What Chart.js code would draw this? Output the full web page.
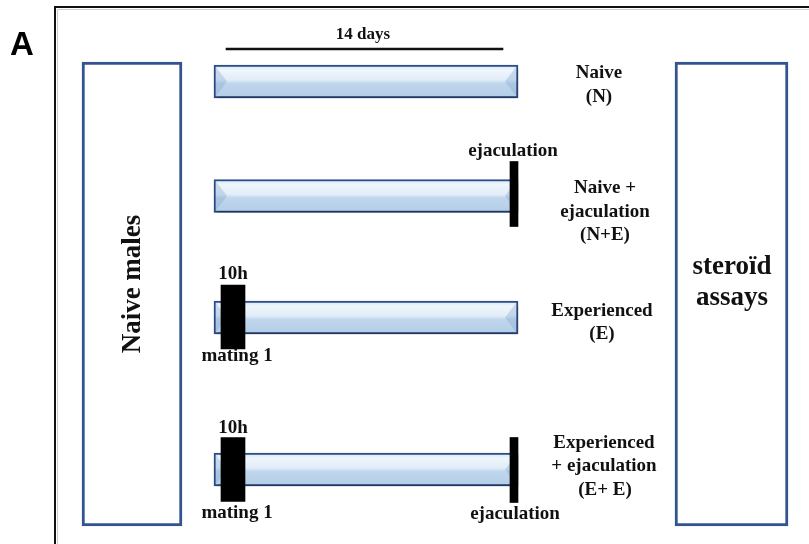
<!DOCTYPE html>
<html>
<head>
<meta charset="utf-8">
<script src="https://cdn.jsdelivr.net/npm/chart.js@4/dist/chart.umd.min.js"></script>
<style>
  html, body { margin: 0; padding: 0; background: #ffffff; }
  #wrap { width: 809px; height: 544px; }
</style>
</head>
<body>
<div id="wrap"><canvas id="c" width="809" height="544"></canvas></div>
<script>
// ---- Data (diagram coordinates in abstract units on a 809 x 544 grid) ----
const groupNames   = ['Naive (N)', 'Naive + ejaculation (N+E)', 'Experienced (E)', 'Experienced + ejaculation (E+ E)'];
const rowCenters   = [81.5, 196, 317.5, 469.5];
const periodStart  = [214, 214, 214, 214];
const periodEnd    = [518, 518, 518, 518];
const matingRows   = [317, 469.5];
const matingRange  = [221, 245];
const ejacRows     = [194, 470];
const ejacRange    = [510, 518];
const sideBoxes    = [[82, 182], [675, 788]];
const sideBoxMid   = 294;
const spanRange    = [226, 503];
const spanY        = 49;

// label lines: [text, x center, baseline, size]
const groupLabels = [
  ['Naive', 599, 78], ['(N)', 599, 102],
  ['Naive +', 605, 193], ['ejaculation', 605, 217], ['(N+E)', 605, 240],
  ['Experienced', 602, 316], ['(E)', 602, 339],
  ['Experienced', 604, 448], ['+ ejaculation', 604, 471], ['(E+ E)', 605, 495]
];
const eventLabels = [
  ['14 days', 363, 39, 17],
  ['ejaculation', 513, 156, 19],
  ['10h', 233, 279, 19],
  ['mating 1', 237, 361, 19],
  ['10h', 233, 433, 19],
  ['mating 1', 237, 518, 19],
  ['ejaculation', 515, 519, 19]
];
const boxTexts = [
  ['steroïd', 732, 274], ['assays', 732, 305]
];
const rotatedText = ['Naive males', 133, 284];
const panelLetter = ['A', 22, 55];

const SERIF = '"Liberation Serif", "Times New Roman", serif';

function barGradient(c) {
  const ch = c.chart;
  if (!ch || !ch.scales || !ch.scales.y || !c.raw || !ch.ctx) return '#c6daee';
  const yc = ch.scales.y.getPixelForValue(c.raw.y);
  if (!isFinite(yc)) return '#c6daee';
  const h = 33;
  const g = ch.ctx.createLinearGradient(0, yc - h / 2, 0, yc + h / 2);
  g.addColorStop(0, '#d3e3f2');
  g.addColorStop(0.15, '#eff6fc');
  g.addColorStop(0.45, '#e2edf8');
  g.addColorStop(0.56, '#bfd6ec');
  g.addColorStop(1, '#b4cde7');
  return g;
}

const drawPlugin = {
  id: 'diagram',
  beforeDatasetsDraw(chart) {
    const { ctx, scales: { x, y } } = chart;
    ctx.save();
    ctx.strokeStyle = '#111111';
    ctx.lineWidth = 2;
    ctx.strokeRect(x.getPixelForValue(55), y.getPixelForValue(7), 900, 900);
    ctx.strokeStyle = 'rgba(0,0,0,0.2)';
    ctx.lineWidth = 1;
    ctx.strokeRect(x.getPixelForValue(57.5), y.getPixelForValue(9.5), 900, 900);
    ctx.restore();
  },
  beforeDatasetDraw(chart, args) {
    const ctx = chart.ctx;
    ctx.save();
    if (args.index === 1) {
      ctx.shadowColor = 'rgba(0,0,0,0.35)';
      ctx.shadowBlur = 4;
      ctx.shadowOffsetX = 1;
      ctx.shadowOffsetY = 3;
    }
  },
  afterDatasetDraw(chart, args) {
    const ctx = chart.ctx;
    ctx.restore();
    if (args.index === 1) {
      const meta = chart.getDatasetMeta(1);
      ctx.save();
      ctx.fillStyle = 'rgba(130,165,205,0.35)';
      meta.data.forEach(el => {
        const p = el.getProps(['x', 'y', 'base', 'height'], true);
        const x0 = Math.min(p.x, p.base) + 2, x1 = Math.max(p.x, p.base) - 2;
        const t = p.y - p.height / 2 + 2, b = p.y + p.height / 2 - 2;
        ctx.beginPath();
        ctx.moveTo(x0, t); ctx.lineTo(x0 + 11, p.y); ctx.lineTo(x0, b); ctx.closePath(); ctx.fill();
        ctx.beginPath();
        ctx.moveTo(x1, t); ctx.lineTo(x1 - 11, p.y); ctx.lineTo(x1, b); ctx.closePath(); ctx.fill();
      });
      ctx.restore();
    }
  },
  afterDatasetsDraw(chart) {
    const { ctx, scales: { x, y } } = chart;
    ctx.save();
    ctx.fillStyle = '#111111';
    ctx.textAlign = 'center';
    ctx.textBaseline = 'alphabetic';
    ctx.font = 'bold 19px ' + SERIF;
    groupLabels.forEach(([t, cx, by]) => ctx.fillText(t, x.getPixelForValue(cx), y.getPixelForValue(by)));
    eventLabels.forEach(([t, cx, by, s]) => {
      ctx.font = 'bold ' + s + 'px ' + SERIF;
      ctx.fillText(t, x.getPixelForValue(cx), y.getPixelForValue(by));
    });
    ctx.font = 'bold 27px ' + SERIF;
    boxTexts.forEach(([t, cx, by]) => ctx.fillText(t, x.getPixelForValue(cx), y.getPixelForValue(by)));
    ctx.save();
    ctx.translate(x.getPixelForValue(rotatedText[1]), y.getPixelForValue(rotatedText[2]));
    ctx.rotate(-Math.PI / 2);
    ctx.textBaseline = 'middle';
    ctx.font = 'bold 27px ' + SERIF;
    ctx.fillText(rotatedText[0], 0, 0);
    ctx.restore();
    ctx.font = 'bold 33px "Liberation Sans", Arial, sans-serif';
    ctx.fillStyle = '#000';
    ctx.fillText(panelLetter[0], x.getPixelForValue(panelLetter[1]), y.getPixelForValue(panelLetter[2]));
    ctx.restore();
  }
};

new Chart(document.getElementById('c'), {
  type: 'bar',
  data: {
    datasets: [
      {
        label: 'boxes',
        order: 5,
        data: sideBoxes.map(r => ({ x: r, y: sideBoxMid })),
        backgroundColor: '#ffffff',
        borderColor: '#33548f',
        borderWidth: 3,
        borderSkipped: false,
        barThickness: 464,
        grouped: false
      },
      {
        label: 'periods',
        order: 4,
        data: rowCenters.map((yv, i) => ({ x: [periodStart[i], periodEnd[i]], y: yv, name: groupNames[i] })),
        backgroundColor: barGradient,
        borderColor: '#2d4c8a',
        borderWidth: 2,
        borderSkipped: false,
        barThickness: 33,
        grouped: false
      },
      {
        label: 'mating',
        order: 2,
        data: matingRows.map(yv => ({ x: matingRange, y: yv })),
        backgroundColor: '#000000',
        borderWidth: 0,
        barThickness: 64,
        grouped: false
      },
      {
        label: 'ejaculation',
        order: 1,
        data: ejacRows.map(yv => ({ x: ejacRange, y: yv })),
        backgroundColor: '#000000',
        borderWidth: 0,
        barThickness: 65,
        grouped: false
      },
      {
        label: '14 days',
        order: 0,
        data: [{ x: spanRange, y: spanY }],
        backgroundColor: '#111111',
        borderWidth: 0,
        barThickness: 2,
        grouped: false
      }
    ]
  },
  options: {
    indexAxis: 'y',
    responsive: false,
    animation: false,
    devicePixelRatio: 1,
    layout: { padding: 0 },
    plugins: { legend: { display: false }, tooltip: { enabled: false } },
    scales: {
      x: { type: 'linear', min: 0, max: 809, display: false, offset: false, beginAtZero: false, grid: { display: false } },
      y: { type: 'linear', min: 0, max: 544, reverse: true, display: false, offset: false, grid: { display: false, offset: false } }
    }
  },
  plugins: [drawPlugin]
});
</script>
</body>
</html>
